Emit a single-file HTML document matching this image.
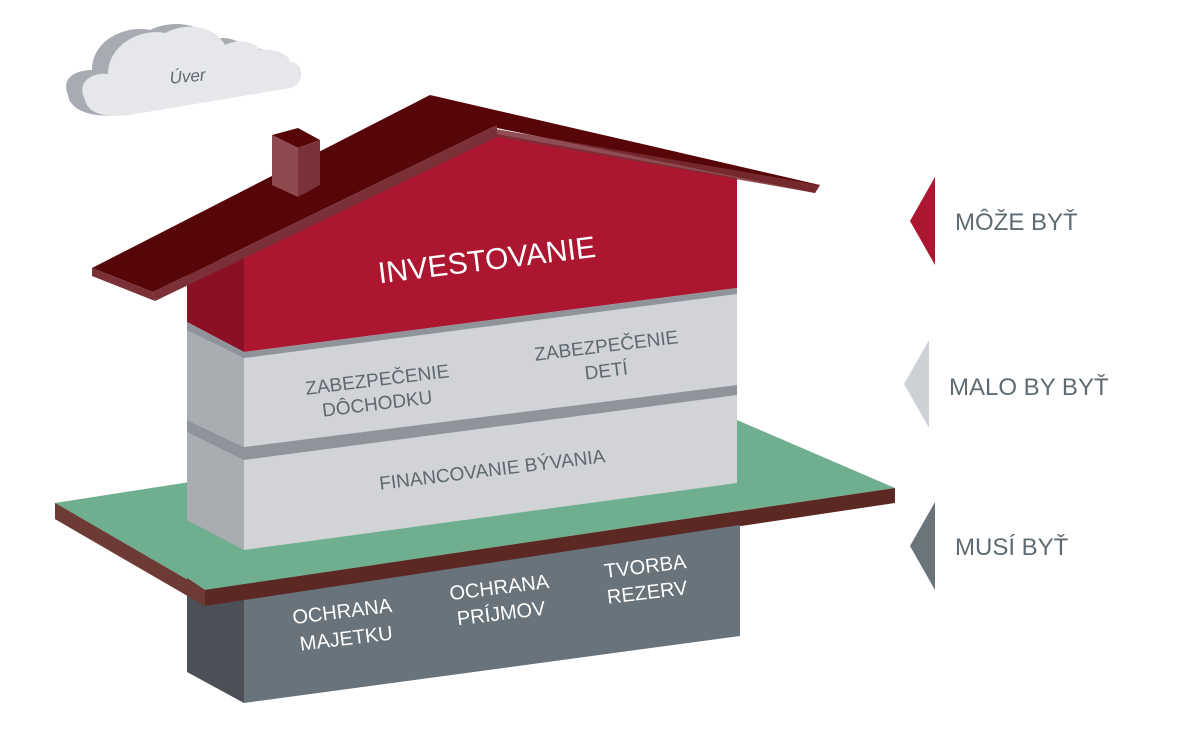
<!DOCTYPE html>
<html><head><meta charset="utf-8"><style>
html,body{margin:0;padding:0;background:#fff;}
svg{display:block;}
text{font-family:"Liberation Sans",sans-serif;}
</style></head><body>
<svg width="1186" height="732" viewBox="0 0 1186 732" xmlns="http://www.w3.org/2000/svg">
<!-- cloud -->
<g>
  <path d="M68,95 C60,75 80,70 92,70 C92,40 125,25 150,30 C170,20 200,22 210,40 C225,35 240,40 245,48 C260,45 275,55 275,60 C295,58 300,80 285,88 L120,115 C90,118 70,110 68,95 Z" fill="#a8acb2"/>
  <path d="M85,100 C75,80 95,72 108,74 C108,45 140,28 165,33 C185,22 215,25 225,45 C240,38 255,42 260,50 C275,48 290,55 290,62 C305,62 305,85 290,88 L130,115 C100,118 88,112 85,100 Z" fill="#e6e7ea"/>
  <text x="188" y="82" font-size="17" fill="#5e6870" font-style="italic" text-anchor="middle" transform="rotate(-5 188 82)">Úver</text>
</g>
<!-- roof right back -->
<polygon points="430,95 820,185 815,193 497,128" fill="#560608"/>
<!-- red house -->
<polygon points="187,265 244,255 244,352 187,322" fill="#8a1026"/>
<polygon points="244,255 497,134 737,178 737,288 244,352" fill="#ac1631"/>
<!-- left roof -->
<polygon points="92,268 430,95 497,125 153,292" fill="#560608"/>
<polygon points="92,268 153,292 155,301 92,276" fill="#7b2f36"/>
<polygon points="153,292 497,125 497,137 155,301" fill="#7b2f36"/>
<polygon points="490,128 820,185 815,193 497,137" fill="#7b2f36" opacity="0.85"/>
<!-- chimney -->
<polygon points="272,135 298,128 320,140 298,148" fill="#560608"/>
<polygon points="272,135 298,148 298,197 272,185" fill="#8f4a4f"/>
<polygon points="298,148 320,140 320,185 298,197" fill="#7a3238"/>
<!-- block 2 -->
<polygon points="187,322 244,352 737,288 737,300 244,364 187,334" fill="#8f949a"/>
<polygon points="187,330 244,358 244,447 187,420" fill="#a9acb1"/>
<polygon points="244,358 737,294 737,385 244,447" fill="#d1d3d6"/>
<!-- block 1 -->
<polygon points="187,420 244,447 737,385 737,397 244,462 187,432" fill="#8f949a"/>
<!-- green slab -->
<polygon points="55,503 190,482 737,420 895,488 205,590" fill="#6faf8f"/>
<polygon points="55,503 205,590 895,488 895,503 205,606 55,519" fill="#5c2824"/>
<polygon points="55,503 205,590 205,606 55,519" fill="#6e3a36"/>
<polygon points="244,460 737,395 737,483 244,550" fill="#d1d3d6"/>
<polygon points="187,432 244,460 244,550 187,520" fill="#a9acb1"/>
<!-- dark base -->
<polygon points="187,578 205,590 244,584 244,703 187,672" fill="#4a5055"/>
<polygon points="244,584 740,512 740,636 244,703" fill="#68737b"/>
<polygon points="187,578 205,590 205,606 187,596" fill="#6e3a36"/>
<polygon points="205,590 740,511 740,525 205,606" fill="#5c2824"/>
<!-- texts -->
<text x="488" y="270" font-size="30" fill="#fff" text-anchor="middle" transform="rotate(-7 488 270)">INVESTOVANIE</text>
<g font-size="19" fill="#5e6870" text-anchor="middle">
<text x="378" y="386" transform="rotate(-7 378 386)">ZABEZPEČENIE</text>
<text x="378" y="410" transform="rotate(-7 378 410)">DÔCHODKU</text>
<text x="607" y="352" transform="rotate(-7 607 352)">ZABEZPEČENIE</text>
<text x="607" y="377" transform="rotate(-7 607 377)">DETÍ</text>
<text x="493" y="476" transform="rotate(-7 493 476)">FINANCOVANIE BÝVANIA</text>
</g>
<g font-size="20" fill="#fff" text-anchor="middle">
<text x="343" y="618" transform="rotate(-7 343 618)">OCHRANA</text>
<text x="347" y="645" transform="rotate(-7 347 645)">MAJETKU</text>
<text x="500" y="594" transform="rotate(-7 500 594)">OCHRANA</text>
<text x="502" y="620" transform="rotate(-7 502 620)">PRÍJMOV</text>
<text x="646" y="573" transform="rotate(-7 646 573)">TVORBA</text>
<text x="648" y="599" transform="rotate(-7 648 599)">REZERV</text>
</g>
<!-- right legend -->
<polygon points="935,177 935,265 910,221" fill="#ac1631"/>
<text x="955" y="230" font-size="24" fill="#5f6b73">MÔŽE BYŤ</text>
<polygon points="929,340 929,428 904,384" fill="#cdd0d4"/>
<text x="949" y="395" font-size="24" fill="#5f6b73">MALO BY BYŤ</text>
<polygon points="935,502 935,590 910,546" fill="#69747b"/>
<text x="955" y="555" font-size="24" fill="#5f6b73">MUSÍ BYŤ</text>
</svg>
</body></html>
